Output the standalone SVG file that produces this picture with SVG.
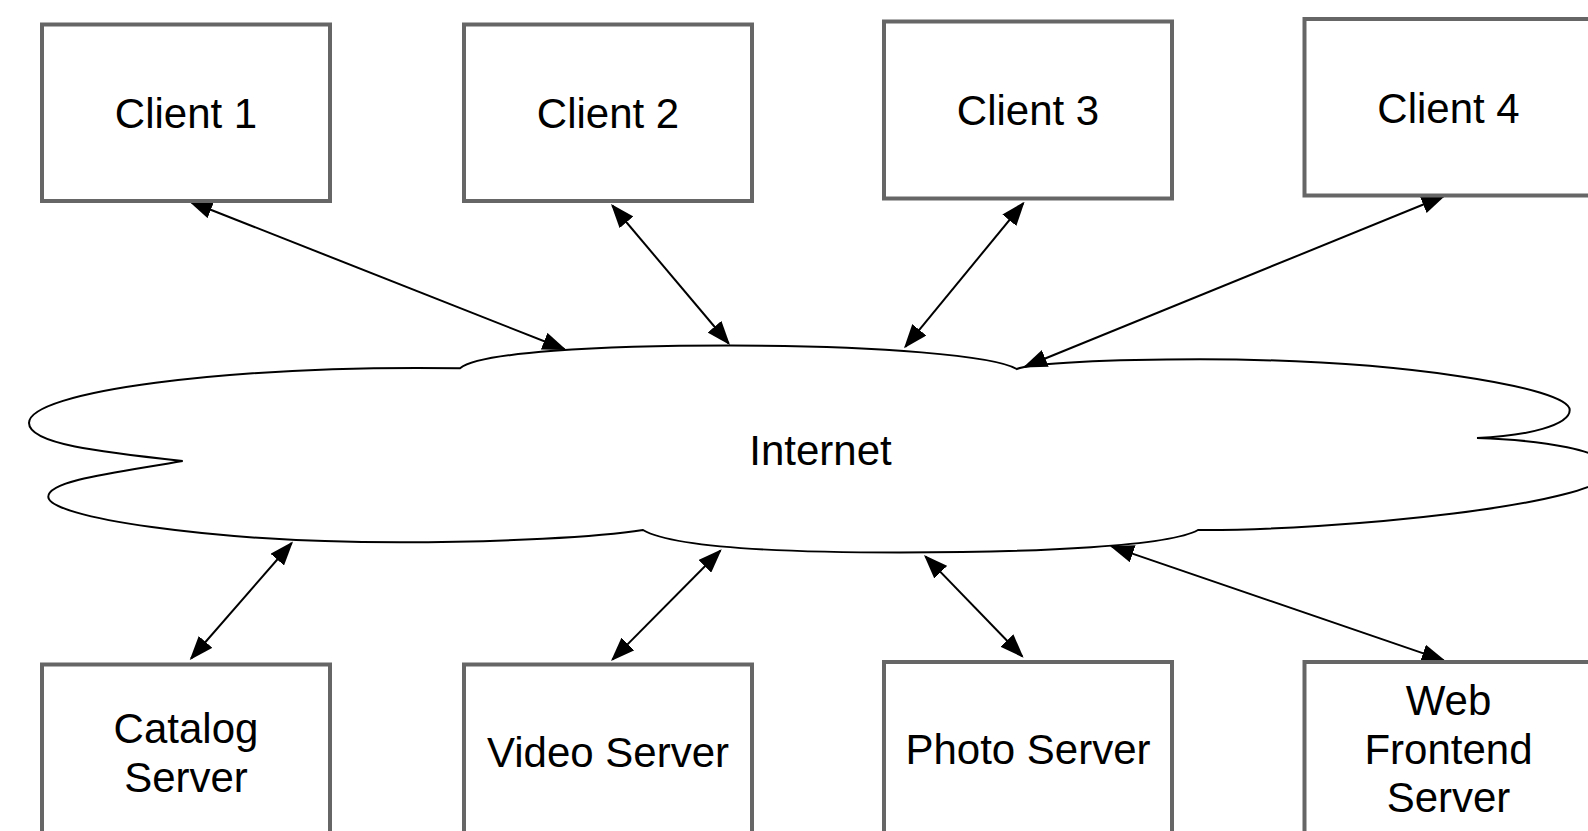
<svg xmlns="http://www.w3.org/2000/svg" width="1588" height="831" viewBox="0 0 1588 831">
  <defs>
    <style>
      .box { fill: #ffffff; stroke: #666666; stroke-width: 4; }
      .cloud { fill: #ffffff; stroke: #000000; stroke-width: 2; stroke-linejoin: miter; }
      .label { font-family: "Liberation Sans", Arial, Helvetica, sans-serif; font-size: 42px; fill: #000000; text-anchor: middle; }
      .link { fill: none; stroke: #000000; stroke-width: 2; marker-start: url(#head); marker-end: url(#head); }
    </style>
    <marker id="head" viewBox="0 0 24 18" markerWidth="24" markerHeight="18" refX="22" refY="9" orient="auto-start-reverse" markerUnits="userSpaceOnUse">
      <path d="M0,0 L24,9 L0,18 Z" fill="#000000"/>
    </marker>
  </defs>

  <rect width="1588" height="831" fill="#ffffff"/>

  <!-- Internet cloud -->
  <g id="internet">
    <path class="cloud" d="M460,368.3
      C223,365 29,392 29,423
      C29,444 100,452 182.7,461
      C120,472 48.3,480 48.3,496.7
      C48.3,517 207,542.3 400,542.3
      C500,542.3 600,537 643,530
      C670,546 760,552.5 900,552.5
      C1040,552.5 1170,546 1198,530
      C1330,531 1610,505 1610,470
      C1610,450 1540,440 1477,438
      C1528,436 1569.7,425 1569.7,410
      C1569.7,388 1403,359.3 1200,359.3
      C1110,359.3 1030,363 1016.7,369
      C995,356 880,345.5 730,345.5
      C600,345.5 480,352 460,368.3 Z"/>
    <text class="label" x="820.5" y="465">Internet</text>
  </g>

  <!-- two-way links between the cloud and each machine -->
  <g id="connectors">
    <line class="link" x1="190.4" y1="201.7" x2="564.6" y2="349.3"/>
    <line class="link" x1="612.3" y1="205.5" x2="728.7" y2="343.5"/>
    <line class="link" x1="1023.3" y1="203.2" x2="905.3" y2="346.8"/>
    <line class="link" x1="1443.6" y1="196.3" x2="1024.9" y2="366.7"/>
    <line class="link" x1="291.7" y1="543" x2="191.1" y2="658.5"/>
    <line class="link" x1="720.3" y1="550.7" x2="612.4" y2="659.6"/>
    <line class="link" x1="925.4" y1="556.4" x2="1022.2" y2="656.3"/>
    <line class="link" x1="1111.9" y1="546.6" x2="1443.8" y2="660.4"/>
  </g>

  <!-- clients -->
  <g id="client1">
    <rect class="box" x="42" y="24.5" width="288" height="176.5"/>
    <text class="label" x="186" y="128">Client 1</text>
  </g>
  <g id="client2">
    <rect class="box" x="464" y="24.5" width="288" height="176.5"/>
    <text class="label" x="608" y="128">Client 2</text>
  </g>
  <g id="client3">
    <rect class="box" x="884" y="21.5" width="288" height="177"/>
    <text class="label" x="1028" y="125">Client 3</text>
  </g>
  <g id="client4">
    <rect class="box" x="1304.5" y="19" width="288" height="176.5"/>
    <text class="label" x="1448.5" y="122.5">Client 4</text>
  </g>

  <!-- servers -->
  <g id="catalog-server">
    <rect class="box" x="42" y="664.5" width="288" height="177"/>
    <text class="label" x="186" y="743">Catalog</text>
    <text class="label" x="186" y="791.5">Server</text>
  </g>
  <g id="video-server">
    <rect class="box" x="464" y="664.5" width="288" height="177"/>
    <text class="label" x="608" y="766.5">Video Server</text>
  </g>
  <g id="photo-server">
    <rect class="box" x="884" y="662" width="288" height="177"/>
    <text class="label" x="1028" y="763.5">Photo Server</text>
  </g>
  <g id="web-frontend-server">
    <rect class="box" x="1304.5" y="662" width="288" height="177"/>
    <text class="label" x="1448.5" y="715">Web</text>
    <text class="label" x="1448.5" y="763.5">Frontend</text>
    <text class="label" x="1448.5" y="812">Server</text>
  </g>
</svg>
